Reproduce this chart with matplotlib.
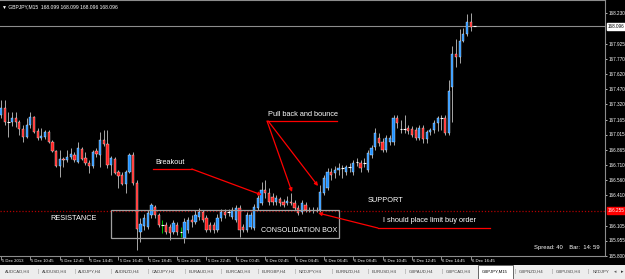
import numpy as np
import matplotlib
matplotlib.use('Agg')
import matplotlib.pyplot as plt
import matplotlib.transforms as mtransforms
from matplotlib.patches import Rectangle

plt.rcParams['font.family'] = ['Liberation Sans', 'DejaVu Sans']

# GBPJPY M15 candles, 5 Dec 08:45 .. 6 Dec 16:59
opens = [167.21, 167.28, 167.14, 167.14, 167.18, 167.14, 167.07, 166.99, 167.11, 167.19,
         167.05, 166.98, 166.99, 167.04, 166.94, 166.85, 166.70, 166.77, 166.76, 166.79,
         166.81, 166.74, 166.87, 166.78, 166.73, 166.70, 166.85, 166.81, 166.96, 166.92,
         166.71, 166.77, 166.64, 166.61, 166.52, 166.64, 166.81, 166.53, 166.04, 166.10,
         166.09, 166.21, 166.29, 166.21, 166.11, 166.11, 166.09, 166.04, 166.11, 166.04,
         165.98, 166.06, 166.16, 166.14, 166.19, 166.24, 166.18, 166.11, 166.11, 166.06,
         166.18, 166.24, 166.24, 166.19, 166.16, 166.28, 166.09, 166.06, 166.09, 166.08,
         166.28, 166.33, 166.46, 166.43, 166.39, 166.34, 166.37, 166.34, 166.33, 166.34,
         166.33, 166.28, 166.24, 166.31, 166.26, 166.26, 166.26, 166.26, 166.43, 166.48,
         166.64, 166.63, 166.66, 166.68, 166.64, 166.69, 166.64, 166.74, 166.73, 166.73,
         166.66, 166.81, 166.89, 166.98, 166.94, 166.86, 166.94, 166.94, 167.18, 167.07,
         167.07, 167.08, 167.07, 167.06, 166.98, 167.08, 166.97, 167.04, 167.06, 167.13,
         167.18, 167.18, 167.03, 167.49, 167.82, 167.79, 167.95, 168.02, 168.14, 168.099]
highs = [167.36, 167.36, 167.24, 167.24, 167.24, 167.16, 167.11, 167.18, 167.24, 167.20,
         167.08, 167.08, 167.06, 167.06, 166.96, 166.86, 166.86, 166.79, 166.86, 166.88,
         166.84, 166.94, 166.89, 166.84, 166.76, 166.86, 166.88, 167.04, 167.06, 167.06,
         166.80, 166.79, 166.66, 166.64, 166.66, 166.83, 166.84, 166.56, 166.18, 166.22,
         166.26, 166.33, 166.31, 166.23, 166.16, 166.14, 166.12, 166.16, 166.14, 166.09,
         166.18, 166.19, 166.21, 166.26, 166.28, 166.26, 166.21, 166.14, 166.14, 166.22,
         166.27, 166.27, 166.27, 166.29, 166.31, 166.31, 166.12, 166.24, 166.24, 166.32,
         166.41, 166.54, 166.56, 166.48, 166.43, 166.41, 166.39, 166.37, 166.40, 166.43,
         166.36, 166.31, 166.36, 166.34, 166.29, 166.29, 166.29, 166.51, 166.61, 166.68,
         166.68, 166.70, 166.73, 166.71, 166.71, 166.73, 166.76, 166.78, 166.76, 166.78,
         166.86, 166.91, 167.08, 167.03, 166.98, 167.01, 167.01, 167.21, 167.21, 167.16,
         167.21, 167.11, 167.10, 167.09, 167.11, 167.11, 167.06, 167.08, 167.16, 167.20,
         167.21, 167.21, 167.56, 167.90, 167.97, 168.07, 168.08, 168.22, 168.23, 168.099]
lows = [167.18, 167.11, 166.99, 167.10, 167.09, 167.01, 166.94, 166.98, 167.08, 167.03,
        166.96, 166.96, 166.97, 166.93, 166.84, 166.69, 166.59, 166.69, 166.74, 166.77,
        166.74, 166.73, 166.76, 166.71, 166.63, 166.68, 166.79, 166.69, 166.90, 166.68,
        166.61, 166.62, 166.48, 166.51, 166.43, 166.63, 166.51, 165.86, 165.94, 166.06,
        166.07, 166.18, 166.18, 166.09, 166.03, 166.02, 165.96, 166.02, 166.01, 165.99,
        165.93, 166.03, 166.09, 166.12, 166.16, 166.14, 166.04, 166.04, 166.03, 166.04,
        166.15, 166.18, 166.20, 166.17, 166.14, 165.99, 166.04, 166.04, 166.07, 166.06,
        166.26, 166.31, 166.38, 166.31, 166.31, 166.31, 166.30, 166.29, 166.31, 166.31,
        166.26, 166.21, 166.22, 166.24, 166.24, 166.23, 166.24, 166.24, 166.41, 166.46,
        166.56, 166.58, 166.61, 166.58, 166.61, 166.64, 166.61, 166.70, 166.64, 166.69,
        166.64, 166.78, 166.86, 166.90, 166.84, 166.84, 166.91, 166.91, 167.08, 167.03,
        167.03, 167.02, 166.99, 166.96, 166.96, 166.93, 166.93, 167.01, 167.03, 167.05,
        167.06, 167.01, 167.01, 167.14, 167.69, 167.73, 167.94, 168.00, 168.05, 168.096]
closes = [167.28, 167.14, 167.14, 167.18, 167.14, 167.07, 166.99, 167.11, 167.19, 167.04,
          166.98, 167.00, 167.04, 166.94, 166.85, 166.70, 166.77, 166.76, 166.79, 166.82,
          166.76, 166.88, 166.77, 166.73, 166.70, 166.84, 166.82, 166.96, 166.92, 166.71,
          166.78, 166.63, 166.60, 166.52, 166.64, 166.81, 166.53, 166.07, 166.12, 166.18,
          166.23, 166.31, 166.21, 166.11, 166.11, 166.04, 166.03, 166.13, 166.04, 166.04,
          166.14, 166.16, 166.14, 166.21, 166.24, 166.16, 166.06, 166.06, 166.06, 166.18,
          166.24, 166.21, 166.24, 166.26, 166.28, 166.06, 166.06, 166.21, 166.21, 166.29,
          166.38, 166.46, 166.43, 166.34, 166.34, 166.38, 166.33, 166.31, 166.35, 166.33,
          166.28, 166.23, 166.33, 166.26, 166.26, 166.26, 166.26, 166.44, 166.58, 166.64,
          166.61, 166.66, 166.68, 166.68, 166.69, 166.69, 166.73, 166.74, 166.68, 166.73,
          166.83, 166.88, 167.03, 166.93, 166.86, 166.98, 166.98, 167.18, 167.13, 167.07,
          167.07, 167.05, 167.01, 166.98, 167.08, 166.97, 167.04, 167.06, 167.13, 167.18,
          167.18, 167.03, 167.45, 167.82, 167.79, 167.95, 168.02, 168.14, 168.09, 168.096]
green_bars = [44, 49]

price_ticks = [168.230, 167.925, 167.770, 167.620, 167.470, 167.320, 167.165, 167.015,
               166.865, 166.710, 166.560, 166.410, 166.105, 165.955, 165.800]
bid_price = 168.096
order_price = 166.255

time_labels = ['5 Dec 2013', '5 Dec 10:45', '5 Dec 12:45', '5 Dec 14:45', '5 Dec 16:45',
               '5 Dec 18:45', '5 Dec 20:45', '5 Dec 22:45', '6 Dec 00:45', '6 Dec 02:45',
               '6 Dec 04:45', '6 Dec 06:45', '6 Dec 08:45', '6 Dec 10:45', '6 Dec 12:45',
               '6 Dec 14:45', '6 Dec 16:45']
tabs = ['AUDCAD,H4', 'AUDUSD,H4', 'AUDJPY,H4', 'AUDNZD,H4', 'CADJPY,H4', 'EURAUD,H4',
        'EURCAD,H4', 'EURGBP,H4', 'NZDJPY,H4', 'EURNZD,H4', 'EURUSD,H4', 'GBPAUD,H4',
        'GBPCAD,H4', 'GBPJPY,M15', 'GBPNZD,H4', 'GBPUSD,H4', 'NZDJPY']
active_tab = 'GBPJPY,M15'

W, H = 625, 279
fig = plt.figure(figsize=(W / 100, H / 100), dpi=100, facecolor='black')
ax = fig.add_axes([0, 23 / H, 605 / W, 256 / H])
ax.set_facecolor('black')

n = len(opens)
idx = np.arange(n)
o = np.array(opens)
c = np.array(closes)

bull = '#1E90FF'
bear = '#FF1E1E'
wick = '#A8A8A8'

for i in idx:
    wc = '#00C000' if i in green_bars else wick
    ax.vlines(i, lows[i], highs[i], color=wc, lw=0.7, zorder=2)
    if abs(c[i] - o[i]) < 0.006:
        ax.hlines(c[i], i - 0.35, i + 0.35, color='white', lw=0.8, zorder=3)
    else:
        col = bull if c[i] > o[i] else bear
        ax.bar(i, abs(c[i] - o[i]), bottom=min(o[i], c[i]), width=0.62,
               color=col, edgecolor='white', linewidth=0.25, zorder=3)

ax.set_xlim(-0.27, 164.6)
ax.set_ylim(165.80, 168.36)

# price lines
ax.axhline(bid_price, color='#8C8C8C', lw=0.8, zorder=1)
ax.axhline(order_price, color='#B00000', lw=0.9, ls=(0, (1, 1.5)), zorder=1)

# right price scale
ax.yaxis.tick_right()
ax.set_yticks(price_ticks)
ax.set_yticklabels(['%.3f' % p for p in price_ticks])
ax.tick_params(axis='y', colors='white', labelsize=3.3, length=1.5, width=0.5, pad=1.2)
trans_y = mtransforms.blended_transform_factory(ax.transAxes, ax.transData)
ax.text(1.004, bid_price, '%.3f' % bid_price, transform=trans_y, fontsize=3.3,
        color='black', va='center', ha='left', clip_on=False,
        bbox=dict(boxstyle='square,pad=0.15', fc='white', ec='white'))
ax.text(1.004, order_price, '%.3f' % order_price, transform=trans_y, fontsize=3.3,
        color='white', va='center', ha='left', clip_on=False,
        bbox=dict(boxstyle='square,pad=0.15', fc='#FF0000', ec='#FF0000'))

# time scale
tick_pos = [8 * k for k in range(len(time_labels))]
ax.set_xticks(tick_pos)
ax.set_xticklabels([])
ax.tick_params(axis='x', colors='#C8C8C8', length=3, width=0.5, direction='out')
trans_x = mtransforms.blended_transform_factory(ax.transData, fig.transFigure)
for p, lab in zip(tick_pos, time_labels):
    ax.text(p + 0.3, 1 - 261 / H, lab, transform=trans_x, fontsize=3.1,
            color='white', va='center', ha='left', clip_on=False)

for s in ['top', 'right', 'bottom']:
    ax.spines[s].set_color('#8C8C8C')
    ax.spines[s].set_linewidth(0.8)
ax.spines['left'].set_visible(False)

# header
ax.text(0.004, 0.985, '\u25bc GBPJPY,M15  168.099 168.099 168.096 168.096',
        transform=ax.transAxes, fontsize=3.6, color='white', va='top', ha='left')
ax.text(163.2, 165.88, 'Spread: 40    Bar:  14: 59', fontsize=4.2, color='white',
        ha='right', va='center')

# annotations
red = '#FF0000'
ax.add_patch(Rectangle((30, 165.98), 62.1, 0.28, fill=False, ec='#A0A0A0', lw=0.9, zorder=4))
ax.text(13.35, 166.18, 'RESISTANCE', fontsize=5.3, color='white', va='center')
ax.text(70.8, 166.06, 'CONSOLIDATION BOX', fontsize=5.1, color='white', va='center')
ax.text(42.0, 166.74, 'Breakout', fontsize=5.3, color='white', va='center')
ax.text(72.75, 167.22, 'Pull back and bounce', fontsize=5.3, color='white', va='center')
ax.text(100.0, 166.35, 'SUPPORT', fontsize=5.3, color='white', va='center')
ax.text(104.1, 166.16, 'I should place limit buy order', fontsize=5.3, color='white', va='center')

arrow = dict(arrowstyle='-|>', color=red, lw=0.9, mutation_scale=5, shrinkA=0, shrinkB=0)
ax.plot([41.4, 52.0], [166.67, 166.67], color=red, lw=0.9, zorder=5)
ax.annotate('', xy=(71.1, 166.41), xytext=(52.0, 166.67), arrowprops=arrow, zorder=5)
ax.plot([72.5, 91.6], [167.15, 167.15], color=red, lw=0.9, zorder=5)
ax.annotate('', xy=(79.3, 166.44), xytext=(72.5, 167.15), arrowprops=arrow, zorder=5)
ax.annotate('', xy=(86.4, 166.50), xytext=(72.8, 167.15), arrowprops=arrow, zorder=5)
ax.plot([102.7, 133.2], [166.08, 166.08], color=red, lw=0.9, zorder=5)
ax.annotate('', xy=(86.4, 166.23), xytext=(102.7, 166.08), arrowprops=arrow, zorder=5)

# symbol tabs
tab_ax = fig.add_axes([0, 0, 1, 14 / H])
tab_ax.set_facecolor('#EDEDED')
tab_ax.set_xlim(0, W)
tab_ax.set_ylim(0, 14)
tab_ax.set_xticks([])
tab_ax.set_yticks([])
for s in tab_ax.spines.values():
    s.set_visible(False)
for k, name in enumerate(tabs):
    x = 5 + 36.7 * k
    if name == active_tab:
        tab_ax.add_patch(Rectangle((x - 4, 0), 35, 14, fc='white', ec='#505050', lw=0.6))
        tab_ax.text(x, 7, name, fontsize=3.1, color='black', va='center', ha='left')
    else:
        tab_ax.text(x, 7, name, fontsize=3.1, color='#404040', va='center', ha='left')
        if k > 0:
            tab_ax.text(x - 3.5, 7, '|', fontsize=3.5, color='#909090', va='center', ha='center')
tab_ax.text(615, 7, '\u25c2', fontsize=3.5, color='#606060', va='center', ha='center')
tab_ax.text(622, 7, '\u25b8', fontsize=3.5, color='#303030', va='center', ha='center')

fig.savefig('out.png', dpi=100, facecolor='black')
